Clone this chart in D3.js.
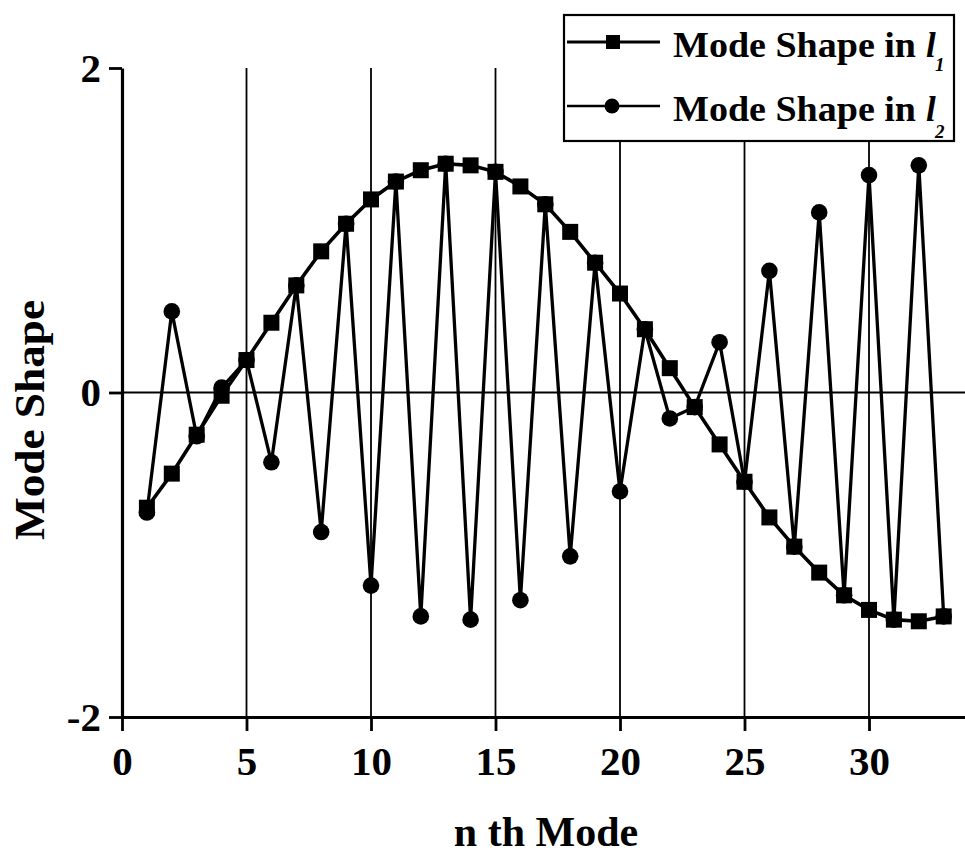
<!DOCTYPE html>
<html>
<head>
<meta charset="utf-8">
<script src="https://cdn.jsdelivr.net/npm/d3@7"></script>
<style>
  body { margin: 0; background: white; }
</style>
</head>
<body>
<div id="viz-container"></div>
<script>
// values
const modes = [1, 2, 3, 4, 5, 6, 7, 8, 9, 10, 11, 12, 13, 14, 15, 16, 17,
  18, 19, 20, 21, 22, 23, 24, 25, 26, 27, 28, 29, 30, 31, 32, 33];
const shapeL1 = [-0.71, -0.50, -0.26, -0.02, 0.20, 0.43, 0.66, 0.87, 1.04, 1.19,
  1.30, 1.37, 1.41, 1.40, 1.36, 1.27, 1.16, 0.99, 0.80, 0.61, 0.39, 0.15, -0.09,
  -0.32, -0.55, -0.77, -0.95, -1.11, -1.25, -1.34, -1.40, -1.41, -1.38];
const shapeL2 = [-0.74, 0.50, -0.27, 0.03, 0.20, -0.43, 0.66, -0.86, 1.04, -1.19,
  1.30, -1.38, 1.41, -1.40, 1.36, -1.28, 1.16, -1.01, 0.80, -0.61, 0.39, -0.16, -0.09,
  0.31, -0.55, 0.75, -0.95, 1.11, -1.25, 1.34, -1.40, 1.40, -1.38];
const xTicks = [0, 5, 10, 15, 20, 25, 30];
const gridTicks = [5, 10, 15, 20, 25, 30];
const yTicks = [-2, 0, 2];
const seriesNames = ["Mode Shape in", "Mode Shape in"];
const seriesSubs = ["1", "2"];

const W = 965, H = 861;
const font = "'Liberation Serif', 'Times New Roman', serif";

let viz = d3.select("#viz-container")
  .append("svg")
    .attr("width", W)
    .attr("height", H)
    .attr("font-family", font)
    .attr("font-weight", "bold");

let x = d3.scaleLinear().domain([0, 34]).range([122, 122 + 34 * 24.9]);
let y = d3.scaleLinear().domain([-2, 2]).range([717, 68]);

// vertical grid lines
viz.append("g")
  .selectAll("line")
  .data(gridTicks).enter()
  .append("line")
    .attr("x1", d => x(d))
    .attr("x2", d => x(d))
    .attr("y1", y(2))
    .attr("y2", y(-2))
    .attr("stroke", "black")
    .attr("stroke-width", 1.8);

// zero line
viz.append("line")
  .attr("x1", x(0))
  .attr("x2", W)
  .attr("y1", y(0))
  .attr("y2", y(0))
  .attr("stroke", "black")
  .attr("stroke-width", 1.8);

// axes
let xAxis = viz.append("g")
  .attr("transform", `translate(0,${y(-2)})`)
  .call(d3.axisBottom(x).tickValues(xTicks).tickSize(14).tickSizeOuter(0).tickPadding(15));

let yAxis = viz.append("g")
  .attr("transform", `translate(${x(0)},0)`)
  .call(d3.axisLeft(y).tickValues(yTicks).tickSize(13).tickSizeOuter(0).tickPadding(8)
    .tickFormat(d3.format("d")));

[xAxis, yAxis].forEach(a => {
  a.attr("font-family", font).attr("font-size", 41).attr("font-weight", "bold");
  a.select(".domain").attr("stroke-width", 3.2);
  a.selectAll(".tick line").attr("stroke-width", 2.8);
  a.selectAll(".tick text").attr("fill", "black");
});
yAxis.selectAll(".tick text").text(d => d < 0 ? "-" + Math.abs(d) : d);

// axis titles
viz.append("text")
  .attr("x", 546)
  .attr("y", 846)
  .attr("text-anchor", "middle")
  .attr("font-size", 42)
  .text("n th Mode");

viz.append("text")
  .attr("transform", "translate(44,420) rotate(-90)")
  .attr("text-anchor", "middle")
  .attr("font-size", 42)
  .attr("textLength", 240)
  .attr("lengthAdjust", "spacingAndGlyphs")
  .text("Mode Shape");

// series
let line = d3.line()
  .x((d, i) => x(modes[i]))
  .y(d => y(d));

viz.append("path")
  .attr("d", line(shapeL2))
  .attr("fill", "none")
  .attr("stroke", "black")
  .attr("stroke-width", 3.3);

viz.append("path")
  .attr("d", line(shapeL1))
  .attr("fill", "none")
  .attr("stroke", "black")
  .attr("stroke-width", 3.6);

viz.append("g")
  .selectAll("rect")
  .data(shapeL1).enter()
  .append("rect")
    .attr("x", (d, i) => x(modes[i]) - 8)
    .attr("y", d => y(d) - 8)
    .attr("width", 16)
    .attr("height", 16)
    .attr("fill", "black");

viz.append("g")
  .selectAll("circle")
  .data(shapeL2).enter()
  .append("circle")
    .attr("cx", (d, i) => x(modes[i]))
    .attr("cy", d => y(d))
    .attr("r", 8.3)
    .attr("fill", "black");

// legend
let legend = viz.append("g");

legend.append("rect")
  .attr("x", 564)
  .attr("y", 15)
  .attr("width", 390)
  .attr("height", 126)
  .attr("fill", "white")
  .attr("stroke", "black")
  .attr("stroke-width", 2.2);

let rows = legend.selectAll(".row")
  .data(seriesNames).enter()
  .append("g")
    .attr("class", "row")
    .attr("transform", (d, i) => `translate(0,${i * 64})`);

rows.append("line")
  .attr("x1", 567)
  .attr("x2", 660)
  .attr("y1", 42)
  .attr("y2", 42)
  .attr("stroke", "black")
  .attr("stroke-width", (d, i) => i === 0 ? 3.2 : 2.6);

rows.filter((d, i) => i === 0).append("rect")
  .attr("x", 606)
  .attr("y", 35)
  .attr("width", 14)
  .attr("height", 14)
  .attr("fill", "black");

rows.filter((d, i) => i === 1).append("circle")
  .attr("cx", 612)
  .attr("cy", 42)
  .attr("r", 7.5)
  .attr("fill", "black");

rows.append("text")
  .attr("x", 673)
  .attr("y", 57)
  .attr("font-size", 35)
  .attr("textLength", 243)
  .attr("lengthAdjust", "spacingAndGlyphs")
  .text(d => d);

rows.append("text")
  .attr("x", 926)
  .attr("y", 57)
  .attr("font-size", 35)
  .attr("font-style", "italic")
  .text("l");

rows.append("text")
  .attr("x", 935)
  .attr("y", (d, i) => i === 0 ? 71 : 74)
  .attr("font-size", 19)
  .attr("font-style", "italic")
  .text((d, i) => seriesSubs[i]);
</script>
</body>
</html>
